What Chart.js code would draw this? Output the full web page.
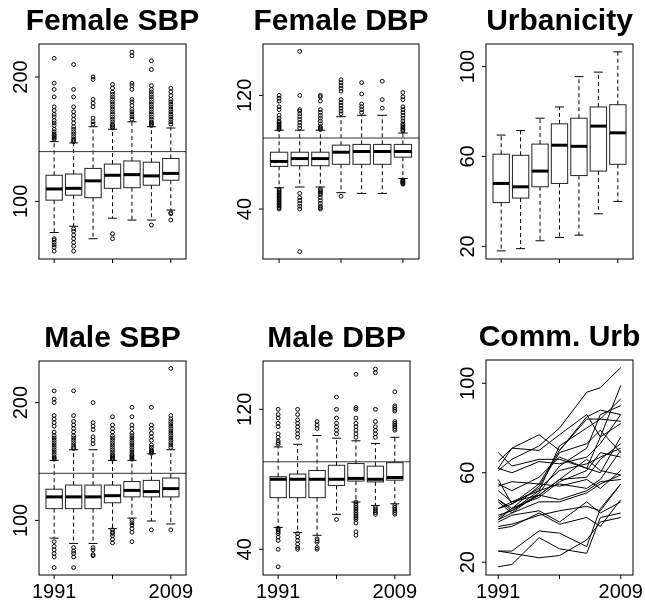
<!DOCTYPE html>
<html>
<head>
<meta charset="utf-8">
<style>
  body { margin: 0; padding: 0; background: #ffffff; }
  #wrap { position: relative; width: 645px; height: 602px; overflow: hidden; }
  #wrap canvas { position: absolute; }
</style>
</head>
<body>
<div id="wrap"></div>
<script src="https://cdn.jsdelivr.net/npm/chart.js@4.4.1/dist/chart.umd.min.js"></script>
<script>
// survey waves
var waveYears = [1991, 1993, 1997, 2000, 2004, 2006, 2009];
var waveTicks = [1, 4, 7];
var yearTicks = [1991, 2000, 2009];
var xTickLabels = ['1991', '', '2009'];

// per wave: [lower whisker, Q1, median, Q3, upper whisker]
var femaleSbpBox = [
  [75, 101, 110, 121, 148], [80, 105, 110.5, 122, 147], [70, 103, 116.5, 126.5, 160],
  [86.5, 110.5, 121, 130, 158], [85, 111, 121.5, 132.5, 164], [85, 113, 120.5, 131.5, 160],
  [93, 117, 122.5, 134.5, 159]
];
var femaleSbpOut = [
  [150, 151, 152, 153, 154, 156, 158, 161, 163, 165, 168, 170, 173, 176, 184, 190, 195, 215, 70, 69, 67, 65, 63, 60],
  [148, 149, 150, 152, 154, 156, 158, 160, 163, 166, 169, 172, 176, 184, 190, 210, 78, 76, 73, 70, 67, 64, 60],
  [162, 164, 167, 176, 179, 182, 198, 200],
  [159, 160, 161, 162, 164, 166, 168, 170, 172, 174, 176, 178, 180, 182, 184, 186, 188, 191, 194, 74, 70],
  [166, 168, 170, 172, 174, 177, 180, 182, 190, 193, 195, 217, 220],
  [161, 162, 163, 164, 166, 168, 170, 172, 174, 176, 178, 180, 182, 184, 186, 188, 190, 193, 206, 213, 81],
  [162, 164, 166, 168, 170, 172, 174, 176, 178, 180, 182, 185, 188, 191, 90, 91, 85]
];

var femaleDbpBox = [
  [55, 70, 73.5, 80, 95.5], [55.5, 70.5, 75.5, 80, 95.5], [55.5, 70.5, 75.5, 80, 95.5],
  [51.5, 71.5, 80, 85, 105], [51, 71.5, 80.5, 85.5, 106], [51, 71.5, 80.5, 85.5, 106],
  [61.5, 76.5, 80.5, 85.5, 93.5]
];
var femaleDbpOut = [
  [96, 97, 98, 99, 100, 101, 102, 104, 106, 110, 112, 116, 118, 120, 54, 53, 52, 51, 50, 49, 48, 47, 46, 45, 44, 43, 42, 41, 40],
  [97, 99, 101, 103, 105, 107, 109, 110, 120, 151, 51, 48, 46, 44, 42, 40, 10],
  [96, 97, 98, 100, 102, 104, 106, 108, 110, 116, 119, 120, 54, 53, 52, 51, 50, 48, 46, 44, 42, 41, 40],
  [107, 109, 111, 113, 115, 117, 123, 125, 127, 129, 131, 49],
  [108, 110, 112, 114, 121, 129],
  [111, 117, 130],
  [95, 96, 97, 98, 99, 100, 102, 104, 106, 108, 110, 112, 117, 119, 122, 60.5, 60, 59.5, 59, 58.5, 58, 57.5]
];

var urbanBox = [
  [18, 39.5, 48, 61, 69.5], [19, 41.5, 46.5, 60.5, 71.5], [22.5, 46.5, 53.5, 65.5, 77],
  [24, 48, 65, 74.5, 82], [25, 51.5, 64.5, 77, 95.5], [34.5, 53.5, 73.5, 82, 97.5],
  [40, 56.5, 70.5, 83, 106.5]
];
var urbanOut = [[], [], [], [], [], [], []];

var maleSbpBox = [
  [85, 110, 120, 126.5, 151], [80.5, 110, 120, 130, 160], [80.5, 110, 120, 130, 160],
  [93, 115, 121, 130, 151], [102, 120, 125.5, 133, 151], [99.5, 120, 124.5, 134, 156.5],
  [97, 120, 127, 136, 160]
];
var maleSbpOut = [
  [152, 153, 154, 156, 158, 160, 162, 164, 166, 168, 170, 172, 175, 180, 183, 186, 189, 200, 203, 210, 82, 78, 75, 72, 69, 60],
  [161, 162, 164, 166, 168, 170, 172, 175, 178, 181, 184, 189, 210, 77, 74, 72, 69, 60],
  [165, 168, 171, 177, 180, 183, 200, 77, 75, 71, 70],
  [152, 153, 154, 155, 156, 158, 160, 162, 164, 166, 168, 170, 172, 175, 178, 181, 188, 92, 90, 89, 87, 84, 81],
  [152, 153, 154, 155, 156, 158, 160, 162, 164, 166, 168, 170, 172, 174, 178, 181, 188, 196, 100, 98, 96, 93, 90, 82],
  [157, 158, 159, 160, 162, 164, 168, 171, 174, 178, 181, 196, 92],
  [162, 164, 166, 168, 170, 172, 174, 176, 178, 180, 182, 184, 186, 189, 229, 92]
];

var maleDbpBox = [
  [52.5, 69.5, 80, 81.5, 98.5], [49.5, 69.5, 80, 83, 100], [48, 69.5, 80, 85, 105],
  [60, 76.5, 80, 88, 103.5], [67, 79, 80.5, 89, 102], [65, 78.5, 80, 87.5, 100.5],
  [66, 79.5, 81, 89.5, 104]
];
var maleDbpOut = [
  [100, 101, 102, 104, 106, 110, 112, 115, 117, 120, 52, 51, 50, 49, 47, 45, 40, 30],
  [104, 106, 108, 110, 112, 114, 117, 120, 49, 47, 45, 43, 41, 40],
  [109, 111, 113, 46, 45, 44, 41, 40],
  [106, 108, 110, 112, 115, 120, 127, 57],
  [104, 106, 108, 110, 112, 115, 120, 121, 140, 67, 66, 65, 64, 63, 62, 61, 60, 59, 58, 57, 55, 50, 48],
  [104, 106, 108, 110, 113, 120, 141, 143, 64, 63, 62, 61, 60],
  [108, 109, 110, 111, 112, 113, 119, 120, 121, 122, 130, 65, 64, 63, 62, 61, 60]
];

// community urbanicity, one row per community, one value per wave
var commUrb = [
  [61, 66, 72, 80, 96, 98, 107],
  [62, 71, 77, 70, 84, 84, 83],
  [69, 63, 66, 66, 62, 76, 99],
  [65, 71, 70, 77, 86, 76, 82],
  [57, 46, 55, 70, 85, 88, 86],
  [48, 43, 52, 72, 80, 84, 93],
  [47, 42, 51, 63, 71, 86, 90],
  [62, 60, 65, 64, 67, 73, 86],
  [55, 52, 58, 67, 62, 60, 76],
  [52, 47, 50, 57, 58, 66, 73],
  [44, 46, 53, 61, 64, 67, 71],
  [44, 47, 52, 55, 53, 57, 70],
  [40, 44, 49, 56, 61, 69, 67],
  [39, 42, 47, 47, 51, 55, 59],
  [39, 44, 50, 48, 52, 56, 57],
  [36, 37, 41, 43, 45, 43, 55],
  [35, 36, 42, 37, 40, 36, 48],
  [25, 25, 34, 33, 27, 44, 55],
  [18, 19, 31, 26, 24, 40, 42],
  [25, 24, 22, 23, 30, 38, 40],
  [41, 43, 50, 57, 66, 61, 59],
  [54, 56, 55, 54, 57, 53, 61],
  [48, 44, 54, 69, 73, 79, 69],
  [38, 41, 43, 38, 47, 42, 47]
];

var FONT = '"Liberation Sans", Arial, Helvetica, sans-serif';

// draws the R style parts: boxes, reference line, frame, ticks, labels, title
var rPlot = {
  id: 'rPlot',
  beforeDatasetsDraw: function (chart, args, o) {
    var ctx = chart.ctx, xs = chart.scales.x, ys = chart.scales.y;
    ctx.save();
    (o.boxes || []).forEach(function (b, i) {
      var cx = xs.getPixelForValue(i + 1);
      var hw = xs.getPixelForValue(1 + o.boxWidth / 2) - xs.getPixelForValue(1);
      var sw = hw * 0.55;
      var p = b.map(function (v) { return ys.getPixelForValue(v); });
      ctx.strokeStyle = '#000';
      ctx.lineWidth = 1;
      ctx.setLineDash([4, 3]);
      ctx.beginPath();
      ctx.moveTo(cx, p[1]); ctx.lineTo(cx, p[0]);
      ctx.moveTo(cx, p[3]); ctx.lineTo(cx, p[4]);
      ctx.stroke();
      ctx.setLineDash([]);
      ctx.beginPath();
      ctx.moveTo(cx - sw, p[0]); ctx.lineTo(cx + sw, p[0]);
      ctx.moveTo(cx - sw, p[4]); ctx.lineTo(cx + sw, p[4]);
      ctx.stroke();
      ctx.strokeStyle = '#222';
      ctx.strokeRect(cx - hw, p[3], 2 * hw, p[1] - p[3]);
      ctx.strokeStyle = '#000';
      ctx.lineWidth = 3;
      ctx.beginPath();
      ctx.moveTo(cx - hw, p[2]); ctx.lineTo(cx + hw, p[2]);
      ctx.stroke();
    });
    if (o.ref != null) {
      var yr = ys.getPixelForValue(o.ref);
      ctx.strokeStyle = '#333';
      ctx.lineWidth = 1;
      ctx.beginPath();
      ctx.moveTo(chart.chartArea.left, yr); ctx.lineTo(chart.chartArea.right, yr);
      ctx.stroke();
    }
    ctx.restore();
  },
  afterDraw: function (chart, args, o) {
    var ctx = chart.ctx, a = chart.chartArea, xs = chart.scales.x, ys = chart.scales.y;
    ctx.save();
    ctx.strokeStyle = '#000';
    ctx.lineWidth = 1;
    ctx.strokeRect(a.left, a.top, a.right - a.left, a.bottom - a.top);
    ctx.fillStyle = '#000';
    ctx.font = '20px ' + FONT;
    // y axis
    o.yTicks.forEach(function (v) {
      var py = ys.getPixelForValue(v);
      ctx.beginPath(); ctx.moveTo(a.left, py); ctx.lineTo(a.left - 4, py); ctx.stroke();
      ctx.save();
      ctx.translate(a.left - 12, py);
      ctx.rotate(-Math.PI / 2);
      ctx.textAlign = 'center';
      ctx.textBaseline = 'alphabetic';
      ctx.fillText(String(v), 0, 0);
      ctx.restore();
    });
    // x axis
    o.xTicks.forEach(function (v, i) {
      var px = xs.getPixelForValue(v);
      ctx.beginPath(); ctx.moveTo(px, a.bottom); ctx.lineTo(px, a.bottom + 4); ctx.stroke();
      if (o.xLabels && xTickLabels[i]) {
        ctx.textAlign = 'center';
        ctx.textBaseline = 'alphabetic';
        ctx.fillText(xTickLabels[i], px, a.bottom + 23);
      }
    });
    // title
    ctx.font = 'bold 30px ' + FONT;
    ctx.textAlign = 'center';
    ctx.textBaseline = 'alphabetic';
    ctx.fillText(o.title, (a.left + a.right) / 2, a.top - 14);
    ctx.restore();
  }
};

var panels = [
  { title: 'Female SBP', col: 0, row: 0, box: [39, 44, 186, 259], y: [53.7, 226.5], yTicks: [100, 200], ref: 140, stats: femaleSbpBox, out: femaleSbpOut },
  { title: 'Female DBP', col: 1, row: 0, box: [263, 44, 419, 259], y: [4.8, 156.2], yTicks: [40, 120], ref: 90, stats: femaleDbpBox, out: femaleDbpOut },
  { title: 'Urbanicity', col: 2, row: 0, box: [486, 44, 633, 259], y: [14.4, 110], yTicks: [20, 60, 100], ref: null, stats: urbanBox, out: urbanOut },
  { title: 'Male SBP', col: 0, row: 1, box: [39, 361, 186, 575], y: [53.7, 235.3], yTicks: [100, 200], ref: 140, stats: maleSbpBox, out: maleSbpOut },
  { title: 'Male DBP', col: 1, row: 1, box: [263, 361, 410, 575], y: [25.3, 147.6], yTicks: [40, 120], ref: 90, stats: maleDbpBox, out: maleDbpOut },
  { title: 'Comm. Urb', col: 2, row: 1, box: [486, 360, 633, 575], y: [14.3, 110.4], yTicks: [20, 60, 100], ref: null, lines: commUrb }
];

var wrap = document.getElementById('wrap');
var CW = 215, CH = 301;

panels.forEach(function (pn) {
  var cx = pn.col * CW, cy = pn.row * CH;
  var cv = document.createElement('canvas');
  cv.width = CW; cv.height = CH;
  cv.style.left = cx + 'px'; cv.style.top = cy + 'px';
  cv.style.width = CW + 'px'; cv.style.height = CH + 'px';
  wrap.appendChild(cv);

  var datasets = [], xMin, xMax, xTicks;
  if (pn.lines) {
    xMin = 1989.2; xMax = 2010.8; xTicks = yearTicks;
    pn.lines.forEach(function (row) {
      datasets.push({
        type: 'line',
        data: row.map(function (v, i) { return { x: waveYears[i], y: v }; }),
        borderColor: '#000', borderWidth: 1, pointRadius: 0, tension: 0, fill: false
      });
    });
  } else {
    xMin = 0.22; xMax = 7.78; xTicks = waveTicks;
    var pts = [];
    pn.out.forEach(function (list, i) {
      list.forEach(function (v) { pts.push({ x: i + 1, y: v }); });
    });
    datasets.push({
      type: 'scatter',
      data: pts,
      pointStyle: 'circle', pointRadius: 1.9, borderWidth: 1,
      borderColor: '#000', backgroundColor: 'rgba(0,0,0,0)'
    });
  }

  new Chart(cv, {
    type: 'scatter',
    data: { datasets: datasets },
    options: {
      responsive: false,
      animation: false,
      devicePixelRatio: 1,
      layout: {
        padding: {
          left: pn.box[0] - cx, top: pn.box[1] - cy,
          right: cx + CW - pn.box[2], bottom: cy + CH - pn.box[3]
        }
      },
      scales: {
        x: { type: 'linear', min: xMin, max: xMax, display: false },
        y: { type: 'linear', min: pn.y[0], max: pn.y[1], display: false }
      },
      plugins: {
        legend: { display: false },
        tooltip: { enabled: false },
        rPlot: {
          title: pn.title, boxes: pn.stats || [], boxWidth: 0.84, ref: pn.ref,
          yTicks: pn.yTicks, xTicks: xTicks, xLabels: pn.row === 1
        }
      }
    },
    plugins: [rPlot]
  });
});
</script>
</body>
</html>
